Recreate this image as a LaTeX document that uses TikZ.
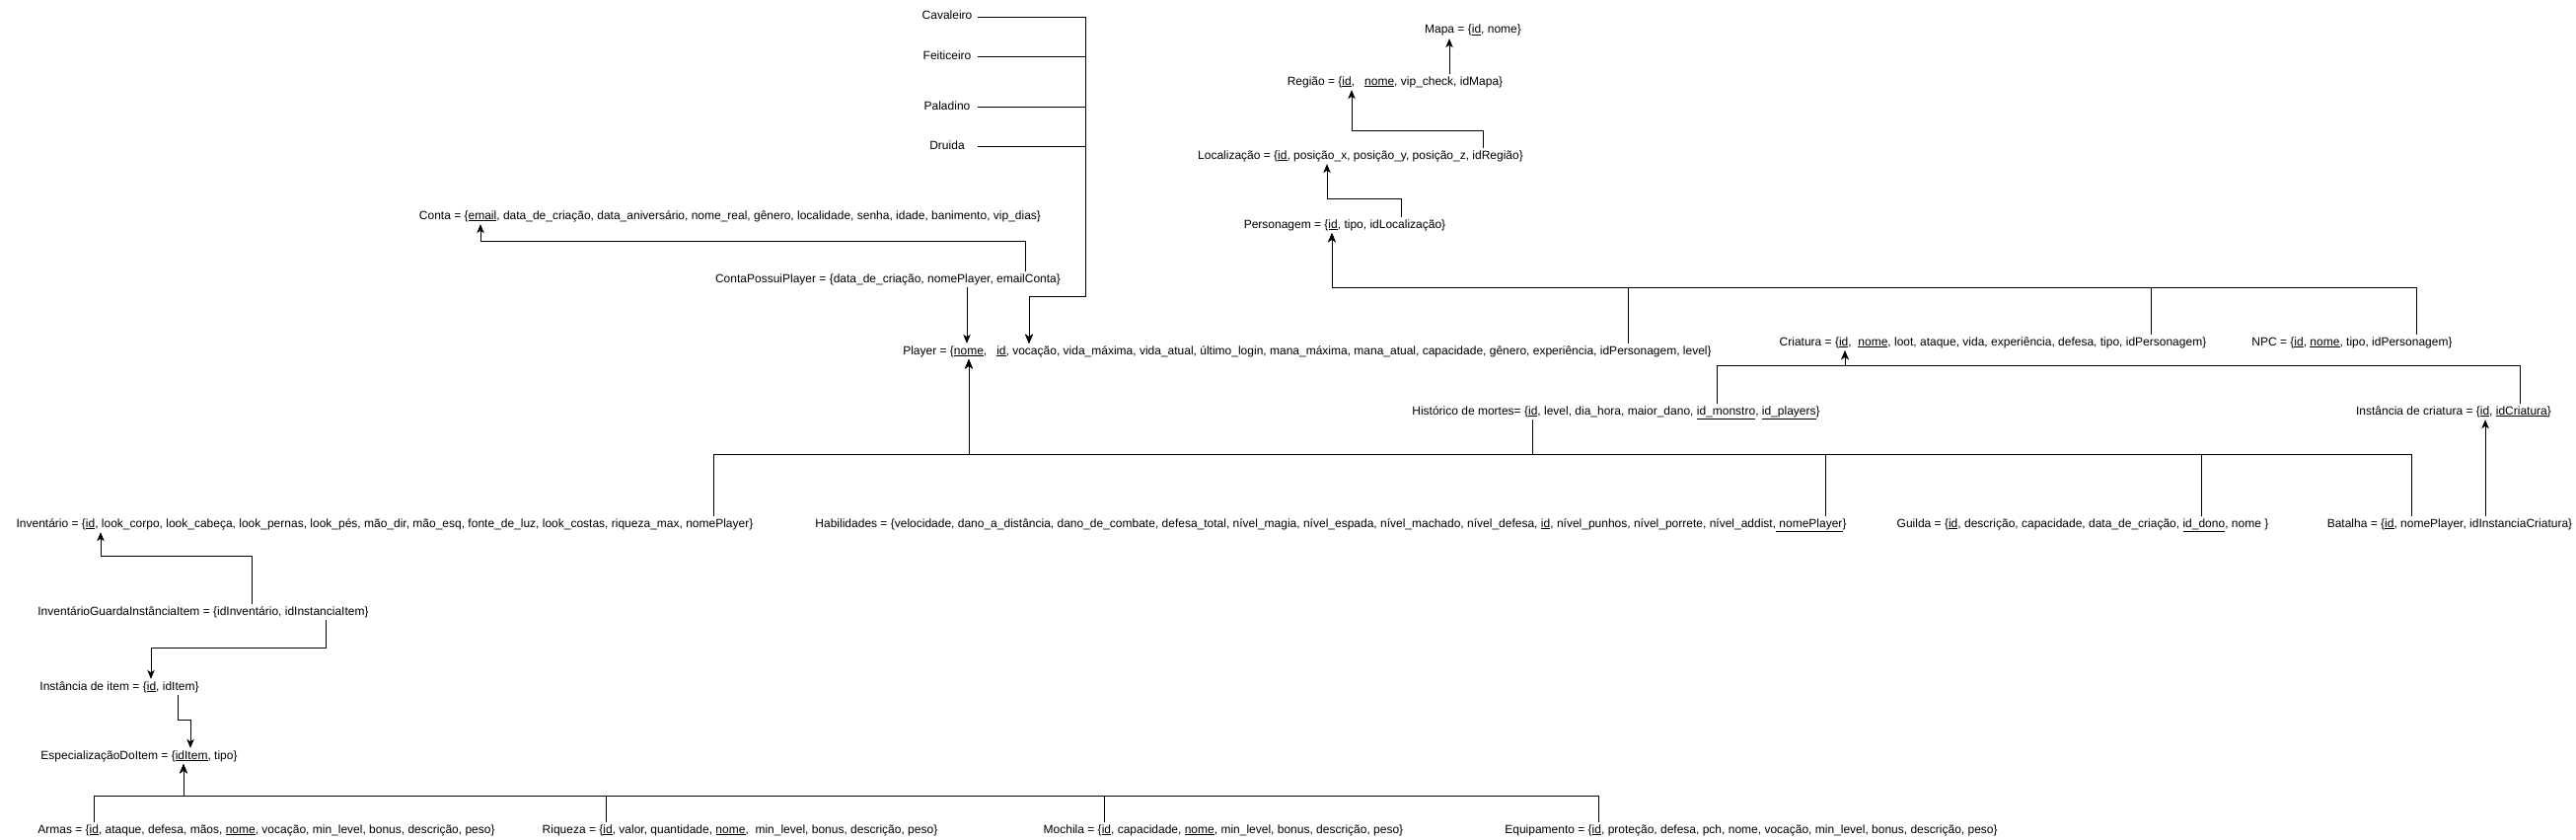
\documentclass[tikz,border=0pt]{standalone}
\usepackage{fontspec}
\setmainfont{Liberation Sans}
\usepackage{tikz}
\usetikzlibrary{arrows.meta}

\tikzset{
    tabela/.style  = {inner xsep=0pt, inner ysep=2.5pt, text height=8.5pt, text depth=2.5pt, yshift=-2pt, font=\fontsize{12}{14}\selectfont},
    vocacao/.style = {tabela, minimum width=62pt},
    chave/.style   = {line width=0.9pt, -{Stealth[length=9pt, width=7.5pt, inset=2.5pt]}},
}

\begin{document}
\begin{tikzpicture}[x=1pt, y=-1pt]
    \useasboundingbox (0,0) rectangle (2611,851);

    % vocacoes
    \node[vocacao] (cav) at ( 960, 15) {Cavaleiro};
    \node[vocacao] (fei) at ( 960, 55) {Feiticeiro};
    \node[vocacao] (pal) at ( 960,106) {Paladino};
    \node[vocacao] (dru) at ( 960,146) {Druida};

    % tabelas
    \node[tabela] (mapa)     at (1493, 29) {Mapa = \{\underline{id}, nome\}};
    \node[tabela] (regiao)   at (1414, 81) {Região = \{\underline{id},\ \ \ \underline{nome}, vip\_check, idMapa\}};
    \node[tabela] (local)    at (1379,156) {Localização = \{\underline{id}, posição\_x, posição\_y, posição\_z, idRegião\}};
    \node[tabela] (persona)  at (1363,226) {Personagem = \{\underline{id}, tipo, idLocalização\}};
    \node[tabela] (conta)    at ( 740,217) {Conta = \{\underline{email}, data\_de\_criação, data\_aniversário, nome\_real, gênero, localidade, senha, idade, banimento, vip\_dias\}};
    \node[tabela] (cpp)      at ( 900,281) {ContaPossuiPlayer = \{data\_de\_criação, nomePlayer, emailConta\}};
    \node[tabela] (player)   at (1325,354) {Player = \{\underline{nome},\ \ \ \underline{id}, vocação, vida\_máxima, vida\_atual, último\_login, mana\_máxima, mana\_atual, capacidade, gênero, experiência, idPersonagem, level\}};
    \node[tabela] (criatura) at (2020,345) {Criatura = \{\underline{id},\ \ \underline{nome}, loot, ataque, vida, experiência, defesa, tipo, idPersonagem\}};
    \node[tabela] (npc)      at (2384,345) {NPC = \{\underline{id}, \underline{nome}, tipo, idPersonagem\}};
    \node[tabela] (hist)     at (1638,415) {Histórico de mortes= \{\underline{id}, level, dia\_hora, maior\_dano, \underline{id\_monstro}, \underline{id\_players}\}};
    \node[tabela] (instcri)  at (2487,415) {Instância de criatura = \{\underline{id}, \underline{idCriatura}\}};
    \node[tabela] (invent)   at ( 390,529) {Inventário = \{\underline{id}, look\_corpo, look\_cabeça, look\_pernas, look\_pés, mão\_dir, mão\_esq, fonte\_de\_luz, look\_costas, riqueza\_max, nomePlayer\}};
    \node[tabela] (habil)    at (1349,529) {Habilidades = \{velocidade, dano\_a\_distância, dano\_de\_combate, defesa\_total, nível\_magia, nível\_espada, nível\_machado, nível\_defesa, \underline{id}, nível\_punhos, nível\_porrete, nível\_addist,\underline{\ nomePlayer}\}};
    \node[tabela] (guilda)   at (2111,529) {Guilda = \{\underline{id}, descrição, capacidade, data\_de\_criação, \underline{id\_dono}, nome \}};
    \node[tabela] (batalha)  at (2483,529) {Batalha = \{\underline{id}, nomePlayer, idInstanciaCriatura\}};
    \node[tabela] (guarda)   at ( 206,618) {InventárioGuardaInstânciaItem = \{idInventário, idInstanciaItem\}};
    \node[tabela] (institem) at ( 121,694) {Instância de item = \{\underline{id}, idItem\}};
    \node[tabela] (espec)    at ( 141,764) {EspecializaçãoDoItem = \{\underline{idItem}, tipo\}};
    \node[tabela] (armas)    at ( 270,839) {Armas = \{\underline{id}, ataque, defesa, mãos, \underline{nome}, vocação, min\_level, bonus, descrição, peso\}};
    \node[tabela] (riqueza)  at ( 750,839) {Riqueza = \{\underline{id}, valor, quantidade, \underline{nome},\ \ min\_level, bonus, descrição, peso\}};
    \node[tabela] (mochila)  at (1240,839) {Mochila = \{\underline{id}, capacidade, \underline{nome}, min\_level, bonus, descrição, peso\}};
    \node[tabela] (equip)    at (1775,839) {Equipamento = \{\underline{id}, proteção, defesa, pch, nome, vocação, min\_level, bonus, descrição, peso\}};

    % chaves estrangeiras
    \draw[chave] (regiao.north -| 1469,0) -- (mapa.south -| 1469,0);
    \draw[chave] (local.north -| 1503,0) |- (1370,132) -- (regiao.south -| 1370,0);
    \draw[chave] (persona.north -| 1420,0) |- (1345,201) -- (local.south -| 1345,0);
    \foreach \n/\x in {player/1650, criatura/2180, npc/2449}
        \draw[chave] (\n.north -| \x,0) |- (1350,291) -- (persona.south -| 1350,0);
    \foreach \v in {cav, fei, pal, dru}
        \draw[chave] (\v.east) -| (1100,300) -| (player.north -| 1043,0);
    \draw[chave] (cpp.north -| 1039,0) |- (487,244) -- (conta.south -| 487,0);
    \draw[chave] (cpp.south -| 980,0) -- (player.north -| 980,0);
    \foreach \n/\x in {invent/723, habil/1850, guilda/2231, batalha/2444}
        \draw[chave] (\n.north -| \x,0) |- (982,460) -- (player.south -| 982,0);
    \draw[chave] (hist.south -| 1553,0) |- (982,460) -- (player.south -| 982,0);
    \foreach \n/\x in {hist/1740, instcri/2554}
        \draw[chave] (\n.north -| \x,0) |- (1870,370) -- (criatura.south -| 1870,0);
    \draw[chave] (batalha.north -| 2519,0) -- (instcri.south -| 2519,0);
    \draw[chave] (guarda.north -| 255,0) |- (102,563) -- (invent.south -| 102,0);
    \draw[chave] (guarda.south -| 330,0) |- (153,656) -- (institem.north -| 153,0);
    \draw[chave] (institem.south -| 180,0) |- (193,729) -- (espec.north -| 193,0);
    \foreach \n/\x in {armas/95, riqueza/614, mochila/1119, equip/1620}
        \draw[chave] (\n.north -| \x,0) |- (186,806) -- (espec.south -| 186,0);
\end{tikzpicture}
\end{document}
